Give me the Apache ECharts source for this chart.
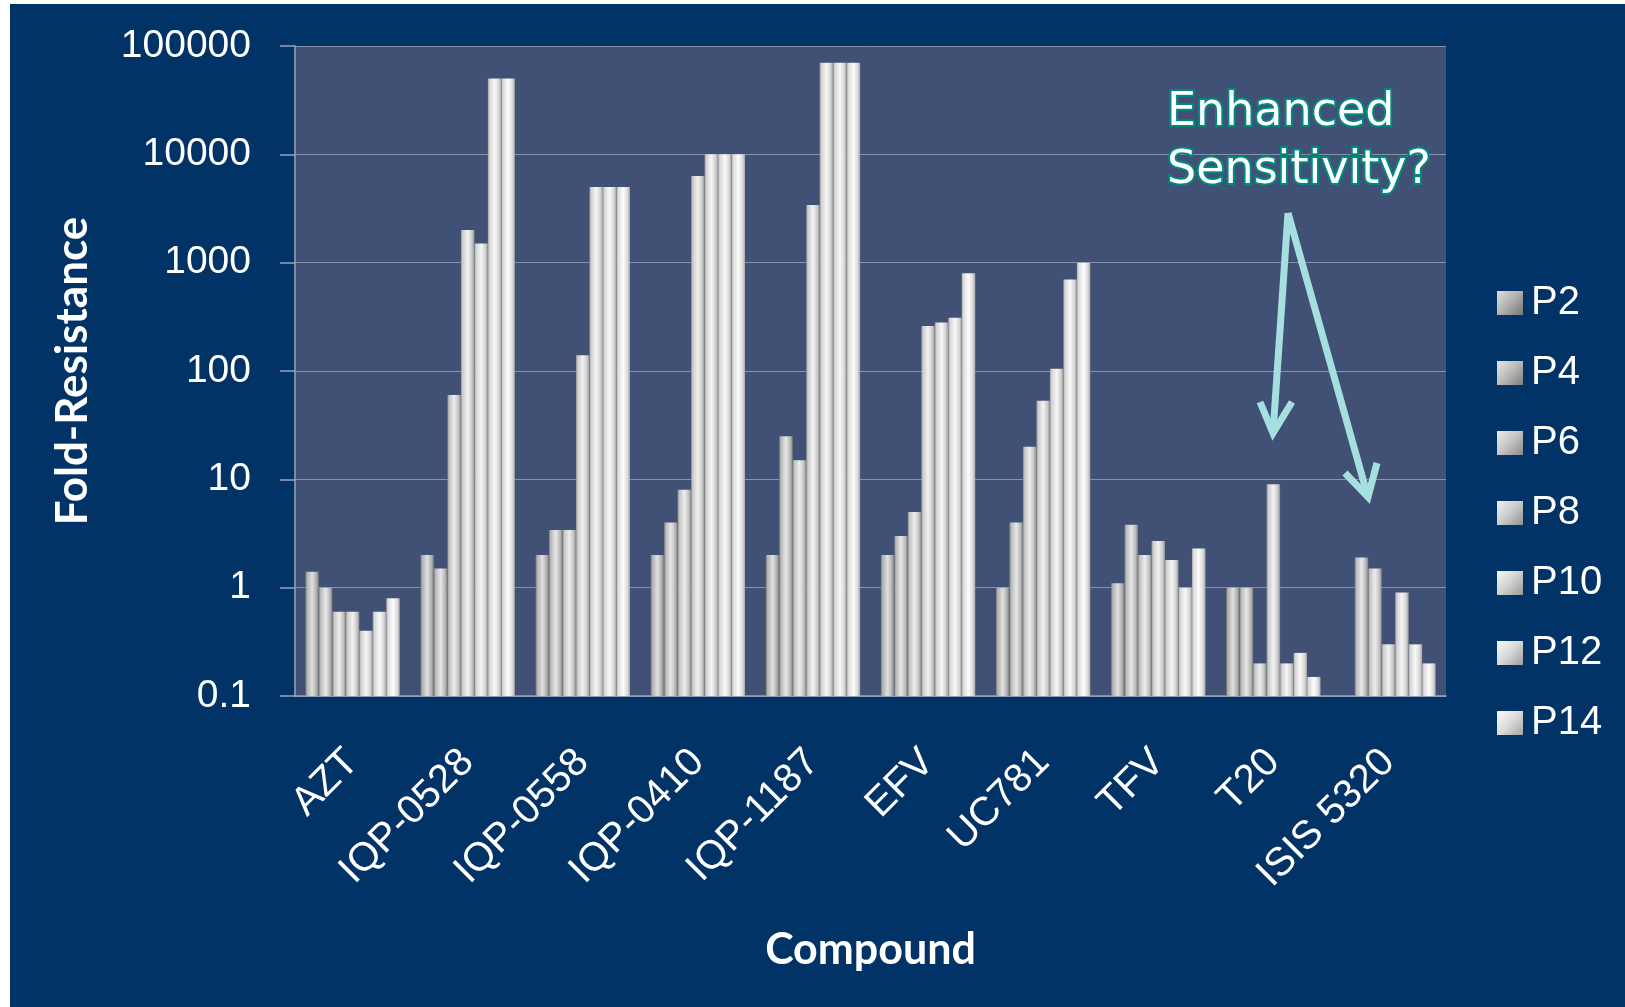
<!DOCTYPE html>
<html>
<head>
<meta charset="utf-8">
<script src="https://cdn.jsdelivr.net/npm/echarts@6/dist/echarts.min.js"></script>
<style>
  html, body { margin: 0; padding: 0; background: #ffffff; }
  #chart { width: 1625px; height: 1007px; }
</style>
</head>
<body>
<div id="chart"></div>
<script>
// ---- Data ----
const categories = ['AZT', 'IQP-0528', 'IQP-0558', 'IQP-0410', 'IQP-1187', 'EFV', 'UC781', 'TFV', 'T20', 'ISIS 5320'];
const seriesNames = ['P2', 'P4', 'P6', 'P8', 'P10', 'P12', 'P14'];
const P2  = [1.4, 2,     2,    2,     2,     2,   1,    1.1, 1,    '-'];
const P4  = [1.0, 1.5,   3.4,  4,     25,    3,   4,    3.8, 1,    1.9];
const P6  = [0.6, 60,    3.4,  8,     15,    5,   20,   2.0, 0.2,  1.5];
const P8  = [0.6, 2000,  140,  6300,  3400,  260, 53,   2.7, 9,    0.3];
const P10 = [0.4, 1500,  5000, 10000, 70000, 280, 105,  1.8, 0.2,  0.9];
const P12 = [0.6, 50000, 5000, 10000, 70000, 310, 700,  1.0, 0.25, 0.3];
const P14 = [0.8, 50000, 5000, 10000, 70000, 800, 1000, 2.3, 0.15, 0.2];
const seriesValues = [P2, P4, P6, P8, P10, P12, P14];
const yTickLabels = ['0.1', '1', '10', '100', '1000', '10000', '100000'];

// ---- Styles ----
const edgeTones   = ['#747474', '#7e7e7e', '#888888', '#909090', '#989898', '#9e9e9e', '#a4a4a4'];
const midTones    = ['#b0b0b0', '#b9b9b9', '#c3c3c3', '#cbcbcb', '#d1d1d1', '#d7d7d7', '#dbdbdb'];
const centerTones = ['#e0e0e0', '#e7e7e7', '#ededed', '#f2f2f2', '#f6f6f6', '#f9f9f9', '#fcfcfc'];
function barGradient(i) {
  return new echarts.graphic.LinearGradient(0, 0, 1, 0, [
    { offset: 0, color: edgeTones[i] },
    { offset: 0.12, color: midTones[i] },
    { offset: 0.5, color: centerTones[i] },
    { offset: 0.82, color: midTones[i] },
    { offset: 1, color: edgeTones[i] }
  ]);
}
function iconGradient(i) {
  return new echarts.graphic.LinearGradient(0, 0, 1, 1, [
    { offset: 0, color: centerTones[i] },
    { offset: 0.5, color: midTones[i] },
    { offset: 1, color: edgeTones[i] }
  ]);
}

const chart = echarts.init(document.getElementById('chart'), null, { renderer: 'canvas' });

const option = {
  backgroundColor: '#023366',
  animation: false,
  grid: {
    left: 295, right: 179, top: 46, bottom: 311,
    show: true, backgroundColor: '#405175', borderWidth: 0
  },
  legend: {
    orient: 'vertical',
    left: 1492, top: 278,
    itemWidth: 26, itemHeight: 24, itemGap: 30,
    icon: 'rect',
    data: seriesNames.map(function (n, i) { return { name: n, itemStyle: { color: iconGradient(i) } }; }),
    textStyle: { color: '#ffffff', fontSize: 40, lineHeight: 40, fontFamily: 'Liberation Sans', padding: [0, 0, 0, 3] }
  },
  xAxis: {
    type: 'category',
    data: categories,
    name: 'Compound',
    nameLocation: 'middle',
    nameGap: 233,
    nameTextStyle: { color: '#ffffff', fontSize: 43, fontWeight: 'bold', fontFamily: 'Lato' },
    axisLine: { show: true, lineStyle: { color: '#9aa3b8', width: 1.5 } },
    axisTick: { show: false },
    axisLabel: {
      rotate: 45, margin: 60, color: '#ffffff', fontSize: 40, fontFamily: 'Liberation Sans', interval: 0,
      verticalAlign: 'middle', align: 'right', padding: [16, 0, 0, 0]
    }
  },
  yAxis: {
    type: 'log',
    logBase: 10,
    min: 0.1,
    max: 100000,
    startValue: 0.1,
    name: 'Fold-Resistance',
    nameLocation: 'middle',
    nameGap: 200,
    nameRotate: 90,
    nameTextStyle: { color: '#ffffff', fontSize: 44, fontWeight: 'bold', fontFamily: 'Lato' },
    axisLine: { show: true, lineStyle: { color: '#9aa3b8', width: 1.5 } },
    axisTick: { show: true, length: 15, lineStyle: { color: '#9aa3b8', width: 1.5 } },
    axisLabel: {
      margin: 44, color: '#ffffff', fontSize: 39, fontFamily: 'Liberation Sans',
      formatter: function (v) { return yTickLabels[Math.round(Math.log10(v)) + 1]; }
    },
    splitLine: { show: true, lineStyle: { color: '#8893aa', width: 1 } }
  },
  series: seriesNames.map(function (name, i) {
    return {
      name: name,
      type: 'bar',
      data: seriesValues[i],
      barGap: '0%',
      barCategoryGap: '18%',
      itemStyle: { color: barGradient(i) }
    };
  }),
  graphic: [
    { type: 'rect', left: 0, top: 0, shape: { width: 10, height: 1007 }, style: { fill: '#ffffff' }, z: 100 },
    { type: 'rect', left: 0, top: 0, shape: { width: 1625, height: 4 }, style: { fill: '#ffffff' }, z: 100 },
    {
      type: 'text', x: 1167, y: 113, z: 100,
      style: { text: 'Enhanced', fill: '#ffffff', stroke: '#00897e', lineWidth: 4, strokeFirst: true,
               fontSize: 46, fontFamily: 'DejaVu Sans', verticalAlign: 'middle', align: 'left' }
    },
    {
      type: 'text', x: 1167, y: 171, z: 100,
      style: { text: 'Sensitivity?', fill: '#ffffff', stroke: '#00897e', lineWidth: 4, strokeFirst: true,
               fontSize: 46, fontFamily: 'DejaVu Sans', verticalAlign: 'middle', align: 'left' }
    },
    { type: 'polyline', z: 100, shape: { points: [[1288, 213], [1273, 433]] }, style: { stroke: '#a6dfe0', lineWidth: 7, fill: null } },
    { type: 'polyline', z: 100, shape: { points: [[1260, 402], [1273, 433], [1292, 402]] }, style: { stroke: '#a6dfe0', lineWidth: 7, fill: null, lineJoin: 'miter' } },
    { type: 'polyline', z: 100, shape: { points: [[1288, 213], [1368, 497]] }, style: { stroke: '#a6dfe0', lineWidth: 7, fill: null } },
    { type: 'polyline', z: 100, shape: { points: [[1345, 473], [1368, 497], [1377, 463]] }, style: { stroke: '#a6dfe0', lineWidth: 7, fill: null, lineJoin: 'miter' } }
  ]
};
chart.setOption(option);
</script>
</body>
</html>
